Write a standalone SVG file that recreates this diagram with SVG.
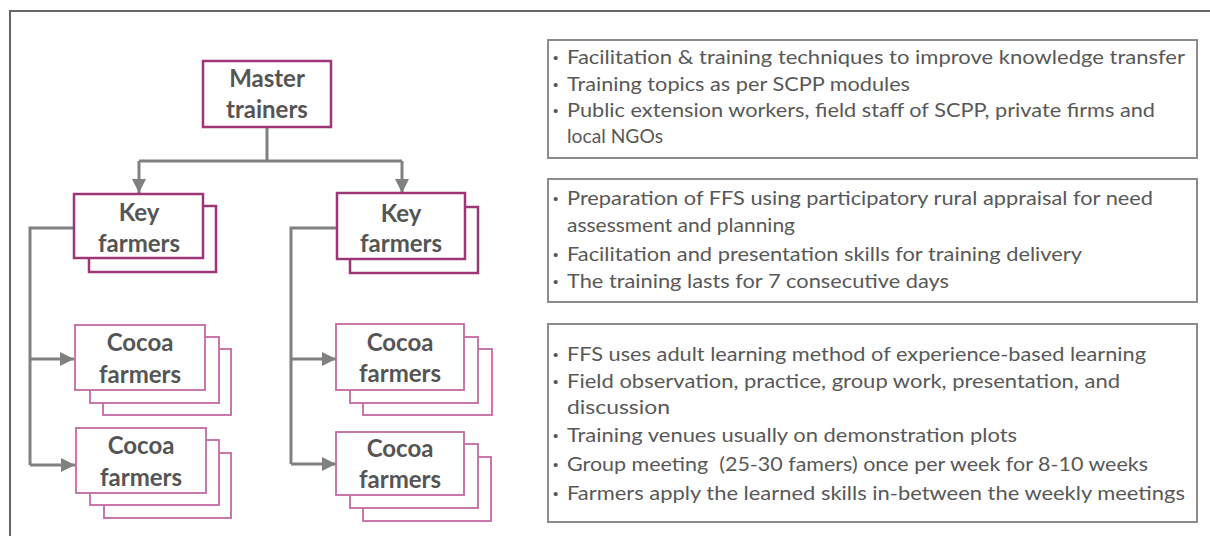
<svg xmlns="http://www.w3.org/2000/svg" width="1210" height="536" viewBox="0 0 1210 536">
  <style>
    .frame { fill: none; stroke: #666; stroke-width: 2; }
    .lead { fill: #fff; stroke: #9c3676; stroke-width: 2.5; }
    .member { fill: #fff; stroke: #c46aa2; stroke-width: 1.8; }
    .label { font-family: Lato, "Open Sans", sans-serif; font-weight: bold; font-size: 24px; fill: #555; text-anchor: middle; }
    .wire { fill: none; stroke: #808080; stroke-width: 3; }
    .note { fill: #fff; stroke: #8c8c8c; stroke-width: 2; }
    .item { font-family: Lato, "Open Sans", sans-serif; font-size: 19px; fill: #585858; }
    .dot { font-family: "Liberation Sans", sans-serif; font-size: 15px; fill: #585858; }
  </style>
  <defs>
    <marker id="head" markerUnits="userSpaceOnUse" markerWidth="16" markerHeight="16" refX="14" refY="8" orient="auto">
      <path d="M0,1 L14,8 L0,15 Z" fill="#808080"/>
    </marker>
  </defs>

  <rect width="1210" height="536" fill="#fff"/>
  <path class="frame" d="M1210,11 H10 V536"/>

  <!-- hierarchy connectors -->
  <g id="connectors">
    <path class="wire" d="M267,127 V161 M139,161 H402"/>
    <path class="wire" d="M139,161 V193" marker-end="url(#head)"/>
    <path class="wire" d="M402,161 V193" marker-end="url(#head)"/>
    <path class="wire" d="M74,228 H30 V465"/>
    <path class="wire" d="M30,359 H74" marker-end="url(#head)"/>
    <path class="wire" d="M30,465 H75" marker-end="url(#head)"/>
    <path class="wire" d="M337,228 H291 V464"/>
    <path class="wire" d="M291,359 H336" marker-end="url(#head)"/>
    <path class="wire" d="M291,464 H336" marker-end="url(#head)"/>
  </g>

  <g id="master-trainers">
    <rect class="lead" x="203" y="61" width="128" height="66"/>
    <text class="label" x="267" y="87">Master</text>
    <text class="label" x="267" y="118">trainers</text>
  </g>

  <g id="key-farmers-left">
    <rect class="lead" x="89" y="206" width="127" height="66"/>
    <rect class="lead" x="74" y="194" width="129" height="64"/>
    <text class="label" x="139" y="221">Key</text>
    <text class="label" x="139" y="252">farmers</text>
  </g>

  <g id="key-farmers-right">
    <rect class="lead" x="350" y="207" width="128" height="66"/>
    <rect class="lead" x="337" y="193" width="128" height="66"/>
    <text class="label" x="401" y="222">Key</text>
    <text class="label" x="401" y="252">farmers</text>
  </g>

  <g id="cocoa-farmers-left-1">
    <rect class="member" x="103" y="349" width="128" height="66"/>
    <rect class="member" x="90" y="337" width="129" height="66"/>
    <rect class="member" x="75" y="325" width="130" height="65"/>
    <text class="label" x="140" y="351">Cocoa</text>
    <text class="label" x="140" y="383">farmers</text>
  </g>

  <g id="cocoa-farmers-left-2">
    <rect class="member" x="104" y="453" width="127" height="65"/>
    <rect class="member" x="90" y="440" width="129" height="65"/>
    <rect class="member" x="76" y="428" width="130" height="65"/>
    <text class="label" x="141" y="454">Cocoa</text>
    <text class="label" x="141" y="486">farmers</text>
  </g>

  <g id="cocoa-farmers-right-1">
    <rect class="member" x="363" y="349" width="129" height="66"/>
    <rect class="member" x="350" y="337" width="128" height="66"/>
    <rect class="member" x="336" y="324" width="128" height="66"/>
    <text class="label" x="400" y="351">Cocoa</text>
    <text class="label" x="400" y="382">farmers</text>
  </g>

  <g id="cocoa-farmers-right-2">
    <rect class="member" x="363" y="457" width="128" height="64"/>
    <rect class="member" x="350" y="444" width="128" height="64"/>
    <rect class="member" x="336" y="432" width="128" height="63"/>
    <text class="label" x="400" y="457">Cocoa</text>
    <text class="label" x="400" y="488">farmers</text>
  </g>

  <!-- description panels -->
  <g id="notes-master-trainers">
    <rect class="note" x="548" y="40" width="649" height="118"/>
    <g class="dot">
      <text x="553" y="63">•</text>
      <text x="553" y="90">•</text>
      <text x="553" y="116">•</text>
    </g>
    <g class="item">
      <text x="567" y="64" textLength="618" lengthAdjust="spacingAndGlyphs">Facilitation &amp; training techniques to improve knowledge transfer</text>
      <text x="567" y="91" textLength="343" lengthAdjust="spacingAndGlyphs">Training topics as per SCPP modules</text>
      <text x="567" y="117" textLength="588" lengthAdjust="spacingAndGlyphs">Public extension workers, field staff of SCPP, private firms and</text>
      <text x="567" y="143" textLength="96" lengthAdjust="spacingAndGlyphs">local NGOs</text>
    </g>
  </g>

  <g id="notes-key-farmers">
    <rect class="note" x="548" y="179" width="649" height="123"/>
    <g class="dot">
      <text x="553" y="204">•</text>
      <text x="553" y="260">•</text>
      <text x="553" y="287">•</text>
    </g>
    <g class="item">
      <text x="567" y="205" textLength="586" lengthAdjust="spacingAndGlyphs">Preparation of FFS using participatory rural appraisal for need</text>
      <text x="567" y="232" textLength="228" lengthAdjust="spacingAndGlyphs">assessment and planning</text>
      <text x="567" y="261" textLength="515" lengthAdjust="spacingAndGlyphs">Facilitation and presentation skills for training delivery</text>
      <text x="567" y="288" textLength="382" lengthAdjust="spacingAndGlyphs">The training lasts for 7 consecutive days</text>
    </g>
  </g>

  <g id="notes-cocoa-farmers">
    <rect class="note" x="548" y="324" width="649" height="198"/>
    <g class="dot">
      <text x="553" y="360">•</text>
      <text x="553" y="387">•</text>
      <text x="553" y="441">•</text>
      <text x="553" y="470">•</text>
      <text x="553" y="499">•</text>
    </g>
    <g class="item">
      <text x="567" y="361" textLength="579" lengthAdjust="spacingAndGlyphs">FFS uses adult learning method of experience-based learning</text>
      <text x="567" y="388" textLength="553" lengthAdjust="spacingAndGlyphs">Field observation, practice, group work, presentation, and</text>
      <text x="567" y="414" textLength="103" lengthAdjust="spacingAndGlyphs">discussion</text>
      <text x="567" y="442" textLength="450" lengthAdjust="spacingAndGlyphs">Training venues usually on demonstration plots</text>
      <text x="567" y="471" textLength="581" lengthAdjust="spacingAndGlyphs" xml:space="preserve">Group meeting  (25-30 famers) once per week for 8-10 weeks</text>
      <text x="567" y="500" textLength="618" lengthAdjust="spacingAndGlyphs">Farmers apply the learned skills in-between the weekly meetings</text>
    </g>
  </g>
</svg>
